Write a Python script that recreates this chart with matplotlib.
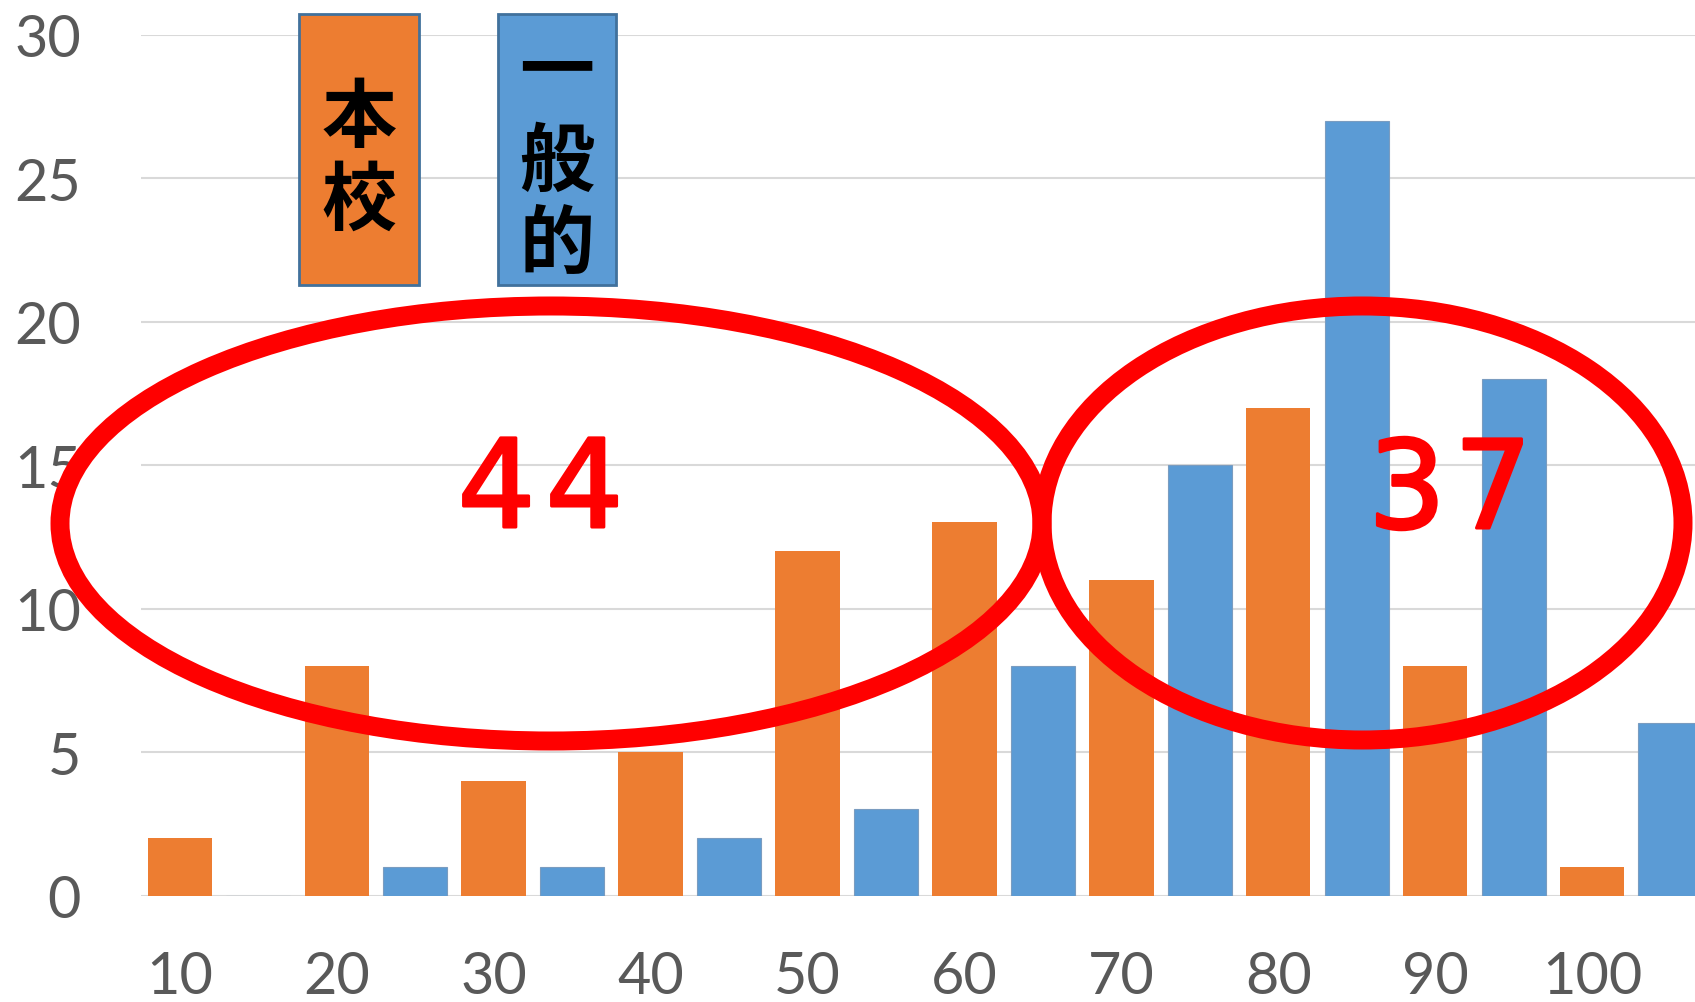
import numpy as np
import matplotlib
matplotlib.use("Agg")
import matplotlib.pyplot as plt
import matplotlib.patheffects as pe
from matplotlib.patches import Ellipse, Rectangle

# ---- data ----
slot_labels = ["10", "15", "20", "25", "30", "35", "40", "45", "50", "55",
               "60", "65", "70", "75", "80", "85", "90", "95", "100", "105"]
tick_labels = ["10", "20", "30", "40", "50", "60", "70", "80", "90", "100"]
school_values = [2, 8, 4, 5, 12, 13, 11, 17, 8, 1]      # 本校 (orange) at 10,20,...,100
general_values = [0, 1, 1, 2, 3, 8, 15, 27, 18, 6]      # 一般的 (blue) at 15,25,...,105
yticks = [0, 5, 10, 15, 20, 25, 30]
left_total = "44"
right_total = "37"
legend_school = "本校"
legend_general = "一般的"

W, H = 1695, 1003
fig = plt.figure(figsize=(W / 100, H / 100), dpi=100)
ax = fig.add_axes([140.5 / W, 1 - 896.5 / H, 1569.4 / W, 860.8 / H])

orange = "#ED7D31"
blue = "#5B9BD5"
x_all = np.arange(len(slot_labels))
x_school = x_all[0::2]
x_general = x_all[1::2]
bw = 0.82
ax.bar(x_school, school_values, width=bw, color=orange, zorder=2)
ax.bar(x_general, general_values, width=bw, color=blue, edgecolor="#7a9cc0",
       linewidth=0.8, zorder=2)

ax.set_xlim(-0.5, len(slot_labels) - 0.5)
ax.set_ylim(0, 30)
ax.set_yticks(yticks)
ax.set_yticklabels([str(v) for v in yticks])
ax.set_xticks(x_school)
ax.set_xticklabels(tick_labels)
for s in ax.spines.values():
    s.set_visible(False)
ax.tick_params(axis="both", length=0, colors="#595959")
ax.tick_params(axis="y", pad=43)
ax.tick_params(axis="x", pad=39)
for lab in ax.get_yticklabels() + ax.get_xticklabels():
    lab.set_fontfamily("Lato")
    lab.set_fontsize(41.5)
    lab.set_color("#595959")
ax.yaxis.grid(True, color="#d9d9d9", linewidth=1.5, zorder=0)
ax.set_axisbelow(True)

# ---- legend boxes (vertical text) ----
def fx(px):
    return px / W

def fy(py):
    return 1 - py / H

def box(x0, x1, y0, y1, color):
    r = Rectangle((fx(x0), fy(y1)), fx(x1) - fx(x0), fy(y0) - fy(y1),
                  transform=fig.transFigure, facecolor=color,
                  edgecolor="#41719C", linewidth=2.0, zorder=5)
    fig.add_artist(r)

box(299, 419, 15, 286, orange)
box(498, 616, 15, 286, blue)

cjk = ["Noto Sans CJK JP", "DejaVu Sans"]
for ch, base in zip(legend_school, [141, 224]):
    fig.text(fx(359), fy(base), ch, ha="center", va="baseline", fontsize=54,
             fontweight="bold", family=cjk, color="black", zorder=6)
for ch, base in zip(legend_general, [94, 185, 268]):
    fig.text(fx(557), fy(base), ch, ha="center", va="baseline", fontsize=54,
             fontweight="bold", family=cjk, color="black", zorder=6)

# ---- red ellipses ----
lw_pt = 19 * 72 / 100
e1 = Ellipse((fx(551), fy(524.5)), fx(982), 435 / H, transform=fig.transFigure,
             fill=False, edgecolor="#FF0000", linewidth=lw_pt, zorder=7)
e2 = Ellipse((fx(1362.5), fy(524)), fx(641), 434 / H, transform=fig.transFigure,
             fill=False, edgecolor="#FF0000", linewidth=lw_pt, zorder=7)
fig.add_artist(e1)
fig.add_artist(e2)

# ---- totals ----
thick = [pe.withStroke(linewidth=2.2, foreground="#FF0000")]
for ch, cx in zip(left_total, [496.5, 584.5]):
    fig.text(fx(cx), fy(528), ch, ha="center", va="baseline", fontsize=88,
             family="DejaVu Sans", color="#FF0000", zorder=8, path_effects=thick)
for ch, cx in zip(right_total, [1407, 1493]):
    fig.text(fx(cx), fy(529), ch, ha="center", va="baseline", fontsize=88,
             family="DejaVu Sans", color="#FF0000", zorder=8, path_effects=thick)

fig.savefig("out.png", dpi=100, facecolor="white")
